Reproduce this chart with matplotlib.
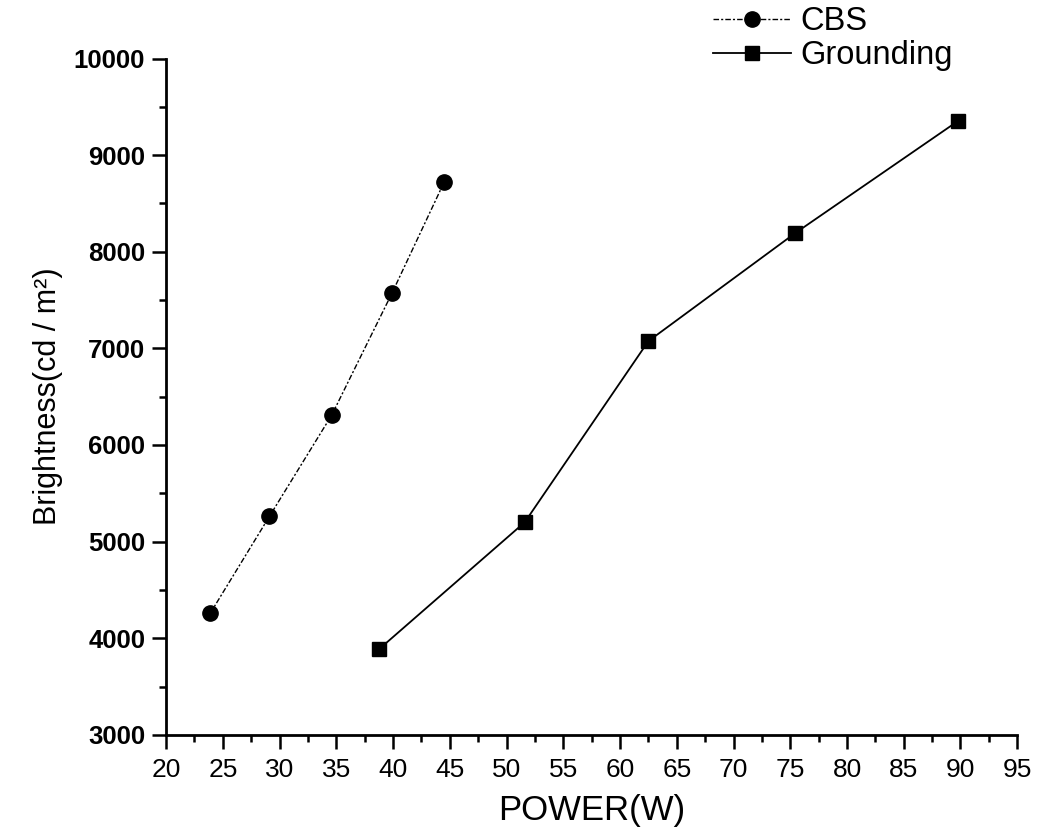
import matplotlib
matplotlib.use("Agg")
import matplotlib.pyplot as plt
from matplotlib.ticker import MultipleLocator

cbs_power = [23.9, 29.1, 34.6, 39.9, 44.5]
cbs_brightness = [4260, 5260, 6310, 7570, 8720]
gnd_power = [38.8, 51.6, 62.5, 75.4, 89.8]
gnd_brightness = [3890, 5200, 7075, 8190, 9355]

xticks = list(range(20, 96, 5))
yticks = list(range(3000, 10001, 1000))

plt.rcParams['font.family'] = ['Liberation Sans', 'DejaVu Sans']

fig = plt.figure(figsize=(10.38, 8.36), dpi=100)
ax = fig.add_axes([0.16, 0.121, 0.82, 0.809])

ax.plot(cbs_power, cbs_brightness, color='black', lw=1.0,
        linestyle=(0, (4, 1.5, 1.5, 1.5)), marker='o', markersize=11,
        label='CBS')
ax.plot(gnd_power, gnd_brightness, color='black', lw=1.3,
        linestyle='-', marker='s', markersize=9.5, label='Grounding')

ax.set_xlim(20, 95)
ax.set_ylim(3000, 10000)
ax.set_xticks(xticks)
ax.set_yticks(yticks)
ax.xaxis.set_minor_locator(MultipleLocator(2.5))
ax.yaxis.set_minor_locator(MultipleLocator(500))

for s in ['top', 'right']:
    ax.spines[s].set_visible(False)
for s in ['left', 'bottom']:
    ax.spines[s].set_linewidth(2.0)

ax.tick_params(axis='both', which='major', direction='out', length=10, width=1.8)
ax.tick_params(axis='both', which='minor', direction='out', length=5, width=1.8)
ax.tick_params(axis='x', labelsize=19, pad=7)
ax.tick_params(axis='y', labelsize=18.5, pad=5)
for lab in ax.get_yticklabels():
    lab.set_fontweight('bold')

ax.set_xlabel('POWER(W)', fontsize=25, labelpad=8)
ax.set_ylabel('Brightness(cd / m²)', fontsize=22, labelpad=8)

fig.legend(loc='upper left', bbox_to_anchor=(0.674, 1.008), frameon=False,
           fontsize=23.5, handlelength=2.4, handletextpad=0.3, labelspacing=0.08,
           borderaxespad=0.0)

fig.savefig('out.png', dpi=100)
